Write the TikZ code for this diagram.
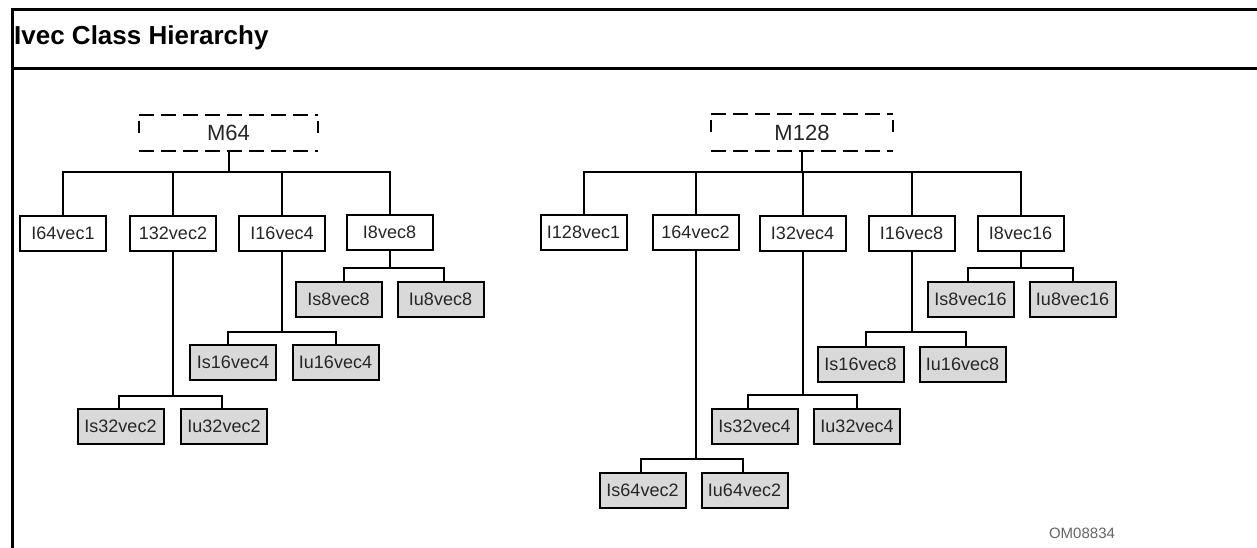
\documentclass[tikz,border=0pt]{standalone}
\usepackage{fontspec}
\setmainfont{Liberation Sans}
\definecolor{shade}{RGB}{217,217,217}
\begin{document}
\begin{tikzpicture}[x=1pt,y=-1pt,
  every node/.style={font=\fontsize{18}{20}\selectfont, text=black!85},
  vbox/.style={draw=black, line width=2pt, minimum width=86pt, minimum height=35pt, inner sep=0pt, fill=white},
  sbox/.style={vbox, fill=shade},
  rootbox/.style={minimum height=36pt, inner sep=0pt, font=\fontsize{22}{24}\selectfont},
  link/.style={line width=2pt, draw=black},
  dashedge/.style={line width=2pt, dash pattern=on 15pt off 7pt},
  frame/.style={line width=3pt, draw=black}
]
\useasboundingbox (0,0) rectangle (1257,548);
\fill[white] (0,0) rectangle (1257,548);

% outer frame and title bar
\coordinate (fbl) at (12,550);
\coordinate (ftl) at (12,10);
\coordinate (ftr) at (1258,10);
\coordinate (fml) at (12,69);
\coordinate (fmr) at (1258,69);
\draw[frame] (fbl) -- (ftl) -- (ftr);
\draw[frame] (fml) -- (fmr);
\node[anchor=base west, font=\fontsize{26}{28}\selectfont\bfseries, text=black, inner sep=0pt] (title) at (14,45) {Ivec Class Hierarchy};

% ---------- M64 tree ----------
\node[rootbox, minimum width=179pt] (m64) at (228.5,133) {M64};
\node[vbox] (a1) at (63,233) {I64vec1};
\node[vbox] (a2) at (173,233) {132vec2};
\node[vbox] (a3) at (282,233) {I16vec4};
\node[vbox] (a4) at (389.5,232.5) {I8vec8};
\node[sbox] (a41) at (338.5,299.5) {Is8vec8};
\node[sbox] (a42) at (440.5,299.5) {Iu8vec8};
\node[sbox] (a31) at (233,362.5) {Is16vec4};
\node[sbox] (a32) at (335.5,362.5) {Iu16vec4};
\node[sbox] (a21) at (120.5,426) {Is32vec2};
\node[sbox] (a22) at (224,426) {Iu32vec2};

% ---------- M128 tree ----------
\node[rootbox, minimum width=182pt] (m128) at (802,132.5) {M128};
\node[vbox] (b1) at (583.5,232.5) {I128vec1};
\node[vbox] (b2) at (695.5,232.5) {164vec2};
\node[vbox] (b3) at (802.5,233) {I32vec4};
\node[vbox] (b4) at (911.5,233) {I16vec8};
\node[vbox] (b5) at (1020.5,233) {I8vec16};
\node[sbox] (b51) at (970.5,299) {Is8vec16};
\node[sbox] (b52) at (1072.5,299) {Iu8vec16};
\node[sbox] (b41) at (860.5,364.5) {Is16vec8};
\node[sbox] (b42) at (962.5,364.5) {Iu16vec8};
\node[sbox] (b31) at (754.5,426) {Is32vec4};
\node[sbox] (b32) at (857,426) {Iu32vec4};
\node[sbox] (b21) at (642.5,490) {Is64vec2};
\node[sbox] (b22) at (744.5,490) {Iu64vec2};

% dashed outlines of the abstract roots
\foreach \r in {m64,m128}{
  \draw[dashedge] (\r.north west) -- (\r.north east);
  \draw[dashedge] (\r.south west) -- (\r.south east);
  \draw[link] ([yshift=-6pt]\r.north west) -- ([yshift=-18pt]\r.north west);
  \draw[link] ([yshift=-6pt]\r.north east) -- ([yshift=-18pt]\r.north east);
}

% bus junctions
\coordinate (m64bus) at (228.5,172);
\coordinate (a4bus) at (389.5,268);
\coordinate (a3bus) at (282,332);
\coordinate (a2bus) at (173,396);
\coordinate (m128bus) at (802,172);
\coordinate (b5bus) at (1020.5,268);
\coordinate (b4bus) at (911.5,332);
\coordinate (b3bus) at (802.5,395);
\coordinate (b2bus) at (695.5,459);

% connectors of the M64 tree
\draw[link] (m64.south) -- (m64bus);
\draw[link] (a1.north) |- (m64bus);
\draw[link] (a2.north) |- (m64bus);
\draw[link] (a3.north) |- (m64bus);
\draw[link] (a4.north) |- (m64bus);
\draw[link] (a4.south) -- (a4bus);
\draw[link] ([xshift=5.5pt]a41.north) |- (a4bus);
\draw[link] ([xshift=3.5pt]a42.north) |- (a4bus);
\draw[link] (a3.south) -- (a3bus);
\draw[link] ([xshift=-5pt]a31.north) |- (a3bus);
\draw[link] (a32.north) |- (a3bus);
\draw[link] (a2.south) -- (a2bus);
\draw[link] ([xshift=-1.5pt]a21.north) |- (a2bus);
\draw[link] ([xshift=-2pt]a22.north) |- (a2bus);

% connectors of the M128 tree
\draw[link] (m128.south) -- (m128bus);
\draw[link] (b1.north) |- (m128bus);
\draw[link] (b2.north) |- (m128bus);
\draw[link] (b3.north) |- (m128bus);
\draw[link] (b4.north) |- (m128bus);
\draw[link] (b5.north) |- (m128bus);
\draw[link] (b5.south) -- (b5bus);
\draw[link] ([xshift=-2.5pt]b51.north) |- (b5bus);
\draw[link] (b52.north) |- (b5bus);
\draw[link] (b4.south) -- (b4bus);
\draw[link] ([xshift=5.5pt]b41.north) |- (b4bus);
\draw[link] ([xshift=3.5pt]b42.north) |- (b4bus);
\draw[link] (b3.south) -- (b3bus);
\draw[link] ([xshift=-6.5pt]b31.north) |- (b3bus);
\draw[link] (b32.north) |- (b3bus);
\draw[link] (b2.south) -- (b2bus);
\draw[link] ([xshift=-1.5pt]b21.north) |- (b2bus);
\draw[link] ([xshift=-1.5pt]b22.north) |- (b2bus);

% figure number
\node[font=\fontsize{15}{17}\selectfont, text=black!60] (fignum) at (1082,533) {OM08834};
\end{tikzpicture}
\end{document}
